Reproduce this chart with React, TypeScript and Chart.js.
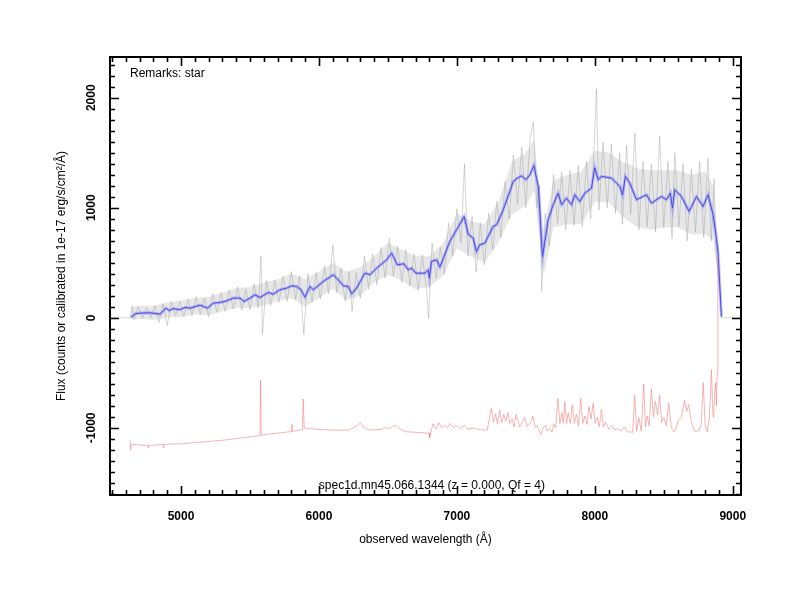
import React, { useEffect, useRef } from "react";
import { Chart, registerables } from "chart.js";

Chart.register(...registerables);

// ---- axis ranges and tick labels ----
const xRange = [4485, 9060];
const yRange = [-1610, 2370];
const xTicks = [5000, 6000, 7000, 8000, 9000];
const yTicks = [-1000, 0, 1000, 2000];
const minorStep = 100;

// ---- texts ----
const remarks = "Remarks: star";
const specLabel = "spec1d.mn45.066.1344 (z = 0.000, Qf = 4)";
const xTitle = "observed wavelength (Å)";
const yTitle = "Flux (counts or calibrated in 1e-17 erg/s/cm²/Å)";

// ---- smoothed spectrum (blue) ----
const blueWave = [
  4638, 4667, 4703, 4780, 4848, 4891, 4915, 4944, 4988, 5029, 5065, 5138, 5191, 5234, 5283, 5331,
  5379, 5428, 5457, 5500, 5536, 5572, 5633, 5669, 5717, 5766, 5802, 5838, 5870, 5899, 5935, 5959,
  6031, 6104, 6140, 6176, 6212, 6237, 6273, 6333, 6370, 6418, 6491, 6527, 6568, 6616, 6647, 6672,
  6703, 6768, 6792, 6800, 6816, 6853, 6877, 6949, 6998, 7053, 7082, 7118, 7142, 7167, 7203, 7263,
  7288, 7336, 7384, 7409, 7440, 7469, 7500, 7530, 7558, 7590, 7621, 7662, 7698, 7734, 7759, 7795,
  7831, 7855, 7891, 7928, 7976, 8000, 8024, 8049, 8121, 8181, 8201, 8222, 8254, 8302, 8375, 8411,
  8483, 8519, 8548, 8563, 8580, 8628, 8684, 8737, 8785, 8821, 8857, 8882, 8894, 8918,
];
const blueFlux = [
  5, 36, 43, 45, 33, 88, 66, 85, 73, 94, 88, 115, 88, 133, 139, 154,
  179, 179, 148, 179, 209, 185, 230, 215, 255, 270, 291, 285, 255, 188, 285, 255,
  330, 391, 345, 291, 285, 218, 270, 406, 391, 451, 527, 588, 482, 491, 436, 451,
  406, 406, 436, 360, 512, 527, 460, 694, 800, 921, 760, 724, 603, 664, 679, 830,
  845, 982, 1150, 1240, 1270, 1290, 1255, 1300, 1385, 1194, 555, 891, 1027, 1133, 1027, 1088,
  1027, 1118, 1057, 1133, 1179, 1365, 1255, 1285, 1270, 1194, 1118, 1285, 1224, 1073, 1118, 1042,
  1103, 1073, 1133, 997, 1164, 1103, 967, 1103, 1012, 1118, 940, 720, 588, 12,
];

// ---- raw spectrum (grey): core envelope ----
const envWave = [
  4630, 4650, 4700, 4800, 4900, 5000, 5100, 5200, 5300, 5400, 5500, 5600, 5700, 5800, 5900, 6000,
  6100, 6200, 6300, 6400, 6500, 6600, 6700, 6800, 6900, 7000, 7100, 7200, 7300, 7400, 7500, 7560,
  7600, 7630, 7700, 7800, 7900, 8000, 8100, 8200, 8300, 8400, 8500, 8600, 8700, 8800, 8860, 8900,
  8918,
];
const envUpper = [
  0, 100, 110, 110, 140, 160, 180, 190, 230, 270, 280, 320, 350, 400, 350, 420,
  500, 420, 460, 560, 680, 620, 560, 560, 680, 950, 880, 850, 1050, 1420, 1500, 1620,
  1150, 800, 1250, 1300, 1330, 1520, 1500, 1420, 1360, 1340, 1340, 1340, 1300, 1330, 1200, 600,
  0,
];
const envLower = [
  0, -20, -10, -20, 0, 10, 30, 20, 60, 90, 90, 110, 150, 180, 100, 180,
  260, 160, 200, 320, 390, 340, 260, 280, 380, 630, 560, 500, 680, 940, 1020, 1150,
  700, 380, 820, 850, 850, 1050, 1050, 920, 830, 800, 820, 820, 760, 760, 700, 300,
  0,
];

// ---- raw spectrum (grey): individual pixels ----
const grayWave = [
  4485, 4630, 4635, 4645, 4660, 4690, 4720, 4750, 4780, 4810, 4840, 4870, 4900, 4930, 4960, 4990,
  5020, 5050, 5080, 5110, 5140, 5170, 5200, 5230, 5260, 5290, 5320, 5350, 5380, 5410, 5440, 5470,
  5500, 5530, 5560, 5580, 5590, 5620, 5650, 5680, 5710, 5740, 5770, 5800, 5830, 5860, 5890, 5920,
  5950, 5980, 6010, 6040, 6070, 6100, 6130, 6160, 6190, 6220, 6240, 6270, 6300, 6330, 6360, 6390,
  6420, 6450, 6480, 6510, 6540, 6570, 6600, 6630, 6660, 6690, 6720, 6750, 6780, 6795, 6820, 6850,
  6880, 6910, 6940, 6970, 7000, 7030, 7055, 7080, 7110, 7140, 7170, 7200, 7230, 7260, 7290, 7320,
  7350, 7380, 7410, 7440, 7470, 7500, 7530, 7555, 7580, 7600, 7615, 7640, 7670, 7700, 7730, 7760,
  7790, 7820, 7850, 7880, 7910, 7940, 7970, 8000, 8012, 8030, 8060, 8090, 8120, 8150, 8180, 8200,
  8230, 8260, 8290, 8320, 8350, 8380, 8410, 8440, 8470, 8500, 8530, 8560, 8580, 8610, 8640, 8670,
  8700, 8730, 8760, 8790, 8820, 8845, 8865, 8880, 8892, 8905, 8918, 9060,
];
const grayFlux = [
  0, 0, 20, 110, -10, 100, -5, 95, 0, 110, -40, 130, -70, 150, 20, 145,
  10, 170, 20, 190, 30, 180, 10, 220, 50, 230, 60, 250, 80, 280, 70, 260,
  70, 310, 90, 560, -150, 340, 110, 340, 140, 380, 150, 420, 170, 380, -150, 400,
  140, 410, 170, 470, 220, 660, 230, 450, 150, 420, 60, 410, 180, 560, 260, 580,
  300, 640, 360, 720, 380, 650, 320, 620, 290, 580, 250, 570, 250, -5, 680, 360,
  640, 400, 860, 560, 990, 680, 1400, 560, 920, 420, 860, 480, 950, 620, 1060, 730,
  1240, 900, 1480, 1030, 1550, 1000, 1620, 1780, 1000, 1200, 240, 950, 650, 1300, 860, 1320,
  800, 1340, 840, 1380, 830, 1420, 900, 1700, 2080, 980, 1600, 1000, 1580, 950, 1500, 850,
  1570, 940, 1680, 800, 1420, 830, 1400, 780, 1650, 820, 1420, 720, 1500, 830, 1400, 700,
  1350, 780, 1420, 730, 1450, 700, 1260, 550, 450, 250, 0, 0,
];

// ---- sky / error spectrum (red, offset) ----
const redWave = [
  4630, 4635, 4640, 4759, 4762, 4765, 4870, 4873, 4876, 5006, 5307, 5563, 5572, 5577, 5582, 5593,
  5789, 5800, 5804, 5808, 5864, 5880, 5886, 5893, 5910, 6090, 6210, 6250, 6280, 6300, 6320, 6361,
  6450, 6482, 6510, 6530, 6557, 6580, 6633, 6700, 6798, 6802, 6810, 6828, 6850, 6870, 6890, 6910,
  6930, 6950, 6975, 7000, 7025, 7054, 7080, 7120, 7160, 7200, 7220, 7250, 7265, 7280, 7295, 7310,
  7325, 7340, 7355, 7370, 7385, 7400, 7415, 7430, 7455, 7476, 7491, 7510, 7536, 7551, 7566, 7581,
  7600, 7611, 7625, 7642, 7655, 7672, 7690, 7702, 7717, 7732, 7747, 7762, 7772, 7783, 7795, 7807,
  7822, 7837, 7852, 7867, 7882, 7898, 7913, 7928, 7943, 7958, 7973, 7988, 8003, 8018, 8033, 8048,
  8063, 8078, 8100, 8123, 8145, 8168, 8190, 8214, 8240, 8259, 8275, 8289, 8303, 8319, 8337, 8355,
  8367, 8379, 8394, 8410, 8425, 8440, 8455, 8470, 8485, 8500, 8518, 8536, 8555, 8575, 8590, 8605,
  8628, 8651, 8666, 8681, 8700, 8726, 8756, 8771, 8786, 8801, 8816, 8831, 8846, 8855, 8861, 8869,
  8876, 8882, 8887, 8892,
];
const redFlux = [
  -1110, -1200, -1150, -1160, -1185, -1162, -1150, -1180, -1150, -1144, -1112, -1072, -1070, -566, -1068, -1063,
  -1035, -1035, -968, -1032, -1020, -1018, -738, -1000, -1006, -1020, -1020, -1000, -975, -950, -990, -1020,
  -1015, -997, -1010, -985, -977, -1005, -1035, -1040, -1049, -1092, -1040, -963, -1010, -955, -1000, -975,
  -1000, -960, -1000, -980, -1005, -977, -1010, -1000, -1015, -1020, -1020, -819, -950, -876, -960, -833,
  -950, -876, -940, -862, -960, -919, -990, -876, -990, -948, -905, -990, -948, -891, -990, -977,
  -1040, -1063, -1000, -977, -1030, -1006, -1040, -963, -1000, -732, -960, -862, -960, -761, -960, -862,
  -960, -790, -960, -876, -980, -732, -960, -891, -970, -804, -920, -776, -960, -905, -990, -833,
  -990, -948, -1010, -977, -1020, -1006, -1030, -991, -1040, -1035, -1040, -704, -1030, -905, -1030, -603,
  -990, -891, -980, -646, -900, -761, -880, -704, -950, -905, -980, -776, -1000, -1035, -1000, -934,
  -900, -747, -850, -790, -950, -1035, -1020, -980, -589, -990, -1035, -900, -473, -850, -905, -700,
  -589, -800, -500, 560,
];

const toPoints = (xs: number[], ys: number[]) => xs.map((x, i) => ({ x, y: ys[i] }));

const FONT = "'Liberation Sans', Arial, Helvetica, sans-serif";

const framePlugin = {
  id: "framePlugin",
  afterDraw(chart: any) {
    const { ctx, chartArea, scales } = chart;
    const xs = scales.x;
    const ys = scales.y;
    const { left, right, top, bottom } = chartArea;
    ctx.save();
    ctx.strokeStyle = "#000";
    ctx.lineWidth = 1.6;
    const xStart = Math.ceil(xRange[0] / minorStep) * minorStep;
    for (let v = xStart; v <= xRange[1]; v += minorStep) {
      const px = Math.round(xs.getPixelForValue(v)) + 0.5;
      const len = v % 1000 === 0 ? 9 : 5;
      ctx.beginPath();
      ctx.moveTo(px, bottom);
      ctx.lineTo(px, bottom - len);
      ctx.moveTo(px, top);
      ctx.lineTo(px, top + len);
      ctx.stroke();
    }
    const yStart = Math.ceil(yRange[0] / minorStep) * minorStep;
    for (let v = yStart; v <= yRange[1]; v += minorStep) {
      const py = Math.round(ys.getPixelForValue(v)) + 0.5;
      const len = v % 1000 === 0 ? 9 : 5;
      ctx.beginPath();
      ctx.moveTo(left, py);
      ctx.lineTo(left + len, py);
      ctx.moveTo(right, py);
      ctx.lineTo(right - len, py);
      ctx.stroke();
    }
    ctx.lineWidth = 2;
    ctx.strokeRect(left, top, right - left, bottom - top);

    ctx.fillStyle = "#000";
    ctx.font = `bold 12px ${FONT}`;
    ctx.textAlign = "center";
    ctx.textBaseline = "middle";
    for (const v of yTicks) {
      const py = ys.getPixelForValue(v);
      ctx.save();
      ctx.translate(92, py);
      ctx.rotate(-Math.PI / 2);
      ctx.fillText(String(v), 0, 0);
      ctx.restore();
    }

    ctx.font = `12px ${FONT}`;
    ctx.textAlign = "left";
    ctx.textBaseline = "alphabetic";
    ctx.fillText(remarks, left + 20, top + 20);
    ctx.textAlign = "center";
    ctx.fillText(specLabel, xs.getPixelForValue(6819), bottom - 6);
    ctx.restore();
  },
};

export default function App() {
  const canvasRef = useRef<HTMLCanvasElement | null>(null);

  useEffect(() => {
    if (!canvasRef.current) return;
    Chart.defaults.font.family = FONT;
    const line = (extra: any) => ({ pointRadius: 0, tension: 0, fill: false, ...extra });
    const chart = new Chart(canvasRef.current, {
      type: "line",
      data: {
        datasets: [
          line({
            label: "raw lower",
            data: toPoints(envWave, envLower),
            borderColor: "rgba(0,0,0,0)",
            borderWidth: 0,
            order: 6,
          }),
          line({
            label: "raw core",
            data: toPoints(envWave, envUpper),
            borderColor: "rgba(0,0,0,0)",
            borderWidth: 0,
            backgroundColor: "rgba(195,195,195,0.4)",
            fill: "-1",
            order: 5,
          }),
          line({
            label: "raw",
            data: toPoints(grayWave, grayFlux),
            borderColor: "rgba(150,150,150,0.5)",
            borderWidth: 0.8,
            order: 4,
          }),
          line({
            label: "error band",
            data: toPoints(blueWave, blueFlux),
            borderColor: "rgba(110,110,255,0.4)",
            borderWidth: 3,
            order: 3,
          }),
          line({
            label: "smoothed",
            data: toPoints(blueWave, blueFlux),
            borderColor: "#4a4ae6",
            borderWidth: 1,
            order: 2,
          }),
          line({
            label: "sky",
            data: toPoints(redWave, redFlux),
            borderColor: "rgba(240,120,120,0.8)",
            borderWidth: 0.7,
            order: 1,
          }),
        ],
      },
      options: {
        animation: false,
        responsive: false,
        devicePixelRatio: 1,
        parsing: false as any,
        normalized: true,
        layout: { padding: { top: 57, right: 59, left: 0, bottom: 0 } },
        plugins: {
          legend: { display: false },
          tooltip: { enabled: false },
        },
        scales: {
          x: {
            type: "linear",
            min: xRange[0],
            max: xRange[1],
            grid: { display: false, drawTicks: false },
            border: { display: false },
            afterBuildTicks: (s: any) => {
              s.ticks = xTicks.map((value) => ({ value }));
            },
            afterFit: (s: any) => {
              s.height = 105;
            },
            ticks: {
              color: "#000",
              padding: 14,
              maxRotation: 0,
              font: { size: 12, weight: "bold" },
              callback: (v: any) => String(v),
            },
            title: {
              display: true,
              text: xTitle,
              color: "#000",
              font: { size: 12 },
              padding: { top: 0, bottom: 52.8 },
            },
          },
          y: {
            type: "linear",
            min: yRange[0],
            max: yRange[1],
            grid: { display: false, drawTicks: false },
            border: { display: false },
            afterBuildTicks: (s: any) => {
              s.ticks = yTicks.map((value) => ({ value }));
            },
            afterFit: (s: any) => {
              s.width = 110;
            },
            ticks: { display: false },
            title: {
              display: true,
              text: yTitle,
              color: "#000",
              font: { size: 12 },
              padding: { top: 54.8, bottom: 0 },
            },
          },
        },
      },
      plugins: [framePlugin],
    });
    return () => chart.destroy();
  }, []);

  return (
    <div style={{ position: "fixed", left: 0, top: 0, width: 800, height: 600, background: "#fff" }}>
      <canvas ref={canvasRef} width={800} height={600} />
    </div>
  );
}
